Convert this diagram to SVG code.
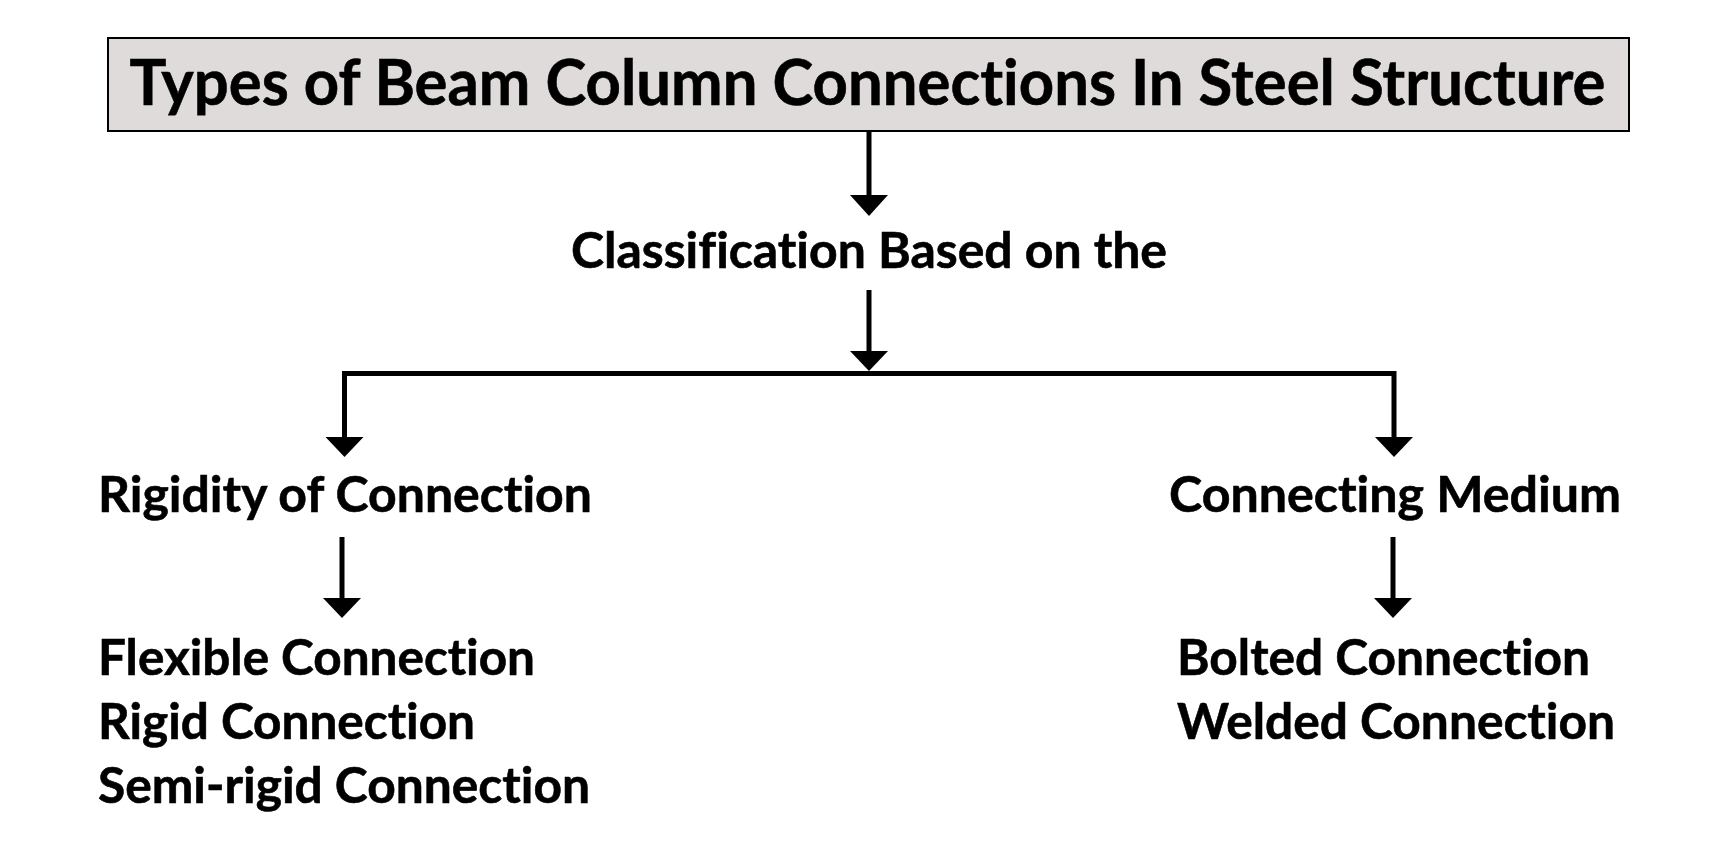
<svg xmlns="http://www.w3.org/2000/svg" width="1728" height="850" viewBox="0 0 1728 850">
<defs>
<style>
.t{font-family:Lato,"Open Sans","Liberation Sans",sans-serif;font-weight:bold;fill:#000;stroke:#000;stroke-width:0.6;font-variant-ligatures:none;font-feature-settings:"liga" 0,"clig" 0;}
.h{font-size:64px;}
.n{font-size:50px;}
.ln{fill:none;stroke:#000;stroke-width:5;stroke-linejoin:miter;stroke-linecap:butt;}
.ah{fill:#000;}
</style>
</defs>
<rect width="1728" height="850" fill="#fff"/>
<g id="title">
<rect x="108" y="38" width="1521" height="93" fill="#DEDBDA" stroke="#000" stroke-width="2"/>
<text class="t h" x="129.5" y="105" textLength="1476" lengthAdjust="spacingAndGlyphs">Types of Beam Column Connections In Steel Structure</text>
</g>
<g id="classification">
<text class="t n" x="571" y="268" textLength="596" lengthAdjust="spacingAndGlyphs">Classification Based on the</text>
</g>
<g id="rigidity">
<text class="t n" x="98" y="512" textLength="494" lengthAdjust="spacingAndGlyphs">Rigidity of Connection</text>
</g>
<g id="medium">
<text class="t n" x="1169" y="512" textLength="452" lengthAdjust="spacingAndGlyphs">Connecting Medium</text>
</g>
<g id="rigidity-types">
<text class="t n" x="98" y="675" textLength="437" lengthAdjust="spacingAndGlyphs">Flexible Connection</text>
<text class="t n" x="98" y="739" textLength="377" lengthAdjust="spacingAndGlyphs">Rigid Connection</text>
<text class="t n" x="98" y="803" textLength="492" lengthAdjust="spacingAndGlyphs">Semi-rigid Connection</text>
</g>
<g id="medium-types">
<text class="t n" x="1177" y="675" textLength="413" lengthAdjust="spacingAndGlyphs">Bolted Connection</text>
<text class="t n" x="1177" y="739" textLength="438" lengthAdjust="spacingAndGlyphs">Welded Connection</text>
</g>
<g id="connectors">
<line class="ln" x1="869" y1="131" x2="869" y2="197"/>
<polygon class="ah" points="850,195 888,195 869,216"/>
<line class="ln" x1="869" y1="290" x2="869" y2="353"/>
<polygon class="ah" points="850,351 888,351 869,371"/>
<path class="ln" d="M344.5,439 V373.5 H1394 V439"/>
<polygon class="ah" points="325.5,437 363.5,437 344.5,457"/>
<polygon class="ah" points="1375,437 1413,437 1394,457"/>
<line class="ln" x1="342" y1="537" x2="342" y2="600"/>
<polygon class="ah" points="323,598 361,598 342,618"/>
<line class="ln" x1="1393" y1="537" x2="1393" y2="600"/>
<polygon class="ah" points="1374,598 1412,598 1393,618"/>
</g>
</svg>
